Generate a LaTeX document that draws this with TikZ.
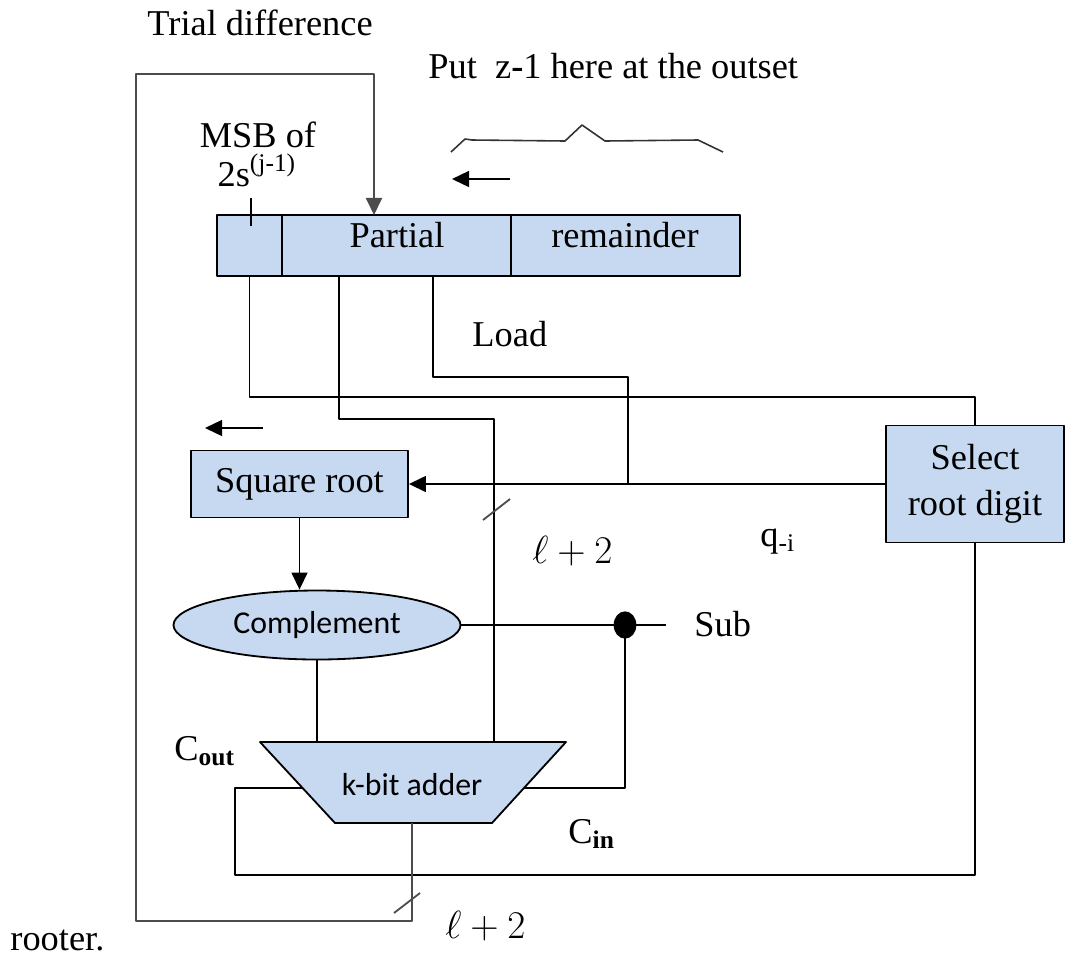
\documentclass[tikz,border=0pt]{standalone}
\usepackage{fontspec}
\setmainfont{Liberation Serif}
\newfontfamily\sansfnt{Carlito}
\usetikzlibrary{arrows.meta,shapes.geometric,positioning}
\definecolor{boxblue}{HTML}{C6D9F1}
\tikzset{
	blk/.style={draw, fill=boxblue, line width=0.8pt, inner sep=0pt},
	wire/.style={line width=0.8pt},
	fb/.style={line width=1.1pt, draw=black!70},
	txt/.style={inner sep=0pt, font=\fontsize{16}{17}\selectfont},
	sans/.style={inner sep=0pt, font=\sansfnt\fontsize{14}{16}\selectfont},
}
\begin{document}
\begin{tikzpicture}[x=0.44pt, y=-0.44pt, line join=round, >={Triangle[length=7.5pt,width=7pt]}]
	\useasboundingbox (0,0) rectangle (1065,958);
	% register
	\foreach \n/\x/\w in {msb/249.5/65,part/396.5/229,rem/625.5/229}
		\node[blk, minimum width=\w*0.44pt, minimum height=61*0.44pt] (\n) at (\x,245.5) {};
	\node[txt, anchor=base] (tpart) at (397,247) {Partial};
	\node[txt, anchor=base] (trem) at (625,247) {remainder};
	% blocks
	\node[blk, txt, minimum width=217*0.44pt, minimum height=67*0.44pt] (sqrt) at (299.5,484) {Square root};
	\node[blk, txt, align=center, minimum width=178*0.44pt, minimum height=117*0.44pt, font=\fontsize{16}{20}\selectfont] (sel) at (975,484) {Select\\root digit};
	\node[blk, sans, ellipse, minimum width=287*0.44pt, minimum height=69*0.44pt] (comp) at (317,625) {Complement};
	\coordinate (atl) at (260,742); \coordinate (atr) at (566,742);
	\coordinate (abr) at (492,823); \coordinate (abl) at (335,823);
	\draw[blk] (atl) -- (atr) -- (abr) -- (abl) -- cycle;
	\node[sans] (add) at (412,785) {k-bit adder};
	\node[ellipse, fill=black, minimum width=10pt, minimum height=12pt, inner sep=0pt] (dot) at (625,625) {};
	% wires
	\draw[wire] (msb.south) |- (975,397) -- (sel.north);
	\draw[wire] (339,276) |- (494,419) -- (494,742);
	\draw[wire] (433,276) |- (628,377) -- (628,484);
	\draw[wire,->] (sel.west) -- (sqrt.east);
	\draw[wire,->] (sqrt.south) -- (sqrt.south |- comp.north);
	\draw[wire] (comp.south) -- (comp.south |- atl);
	\draw[wire] (comp.east) -- (dot.center) -- (666,625);
	\draw[wire] (dot.center) |- (524,788);
	\draw[wire] (303,788) -| (235,875) -| (sel.south);
	\draw[fb,->] (412,823) |- (136,921) |- (374,74) -- (374,215);
	% ticks, slashes, shift arrows
	\draw[wire] (251,198) -- (251,226);
	\draw[wire, black!70] (483,520) -- (510,499);
	\draw[wire, black!70] (394,913) -- (420,893);
	\draw[wire,->] (510,179) -- (452,179);
	\draw[wire,->] (263,428) -- (205,428);
	\draw[line width=0.7pt, black!80] (451,152) -- (465,139) -- (472,140) -- (565,141) -- (582,125) -- (605,141) -- (698,140) -- (723,152);
	% labels
	\node[txt, anchor=base west] (ltrial) at (147,35) {Trial difference};
	\node[txt, anchor=base west] (lput) at (428,78) {Put\ \ z\textbf{-}1 here at the outset};
	\node[txt, anchor=base] (lmsb) at (258,147) {MSB of};
	\node[txt, anchor=base] (lmsb2) at (257,186) {2s\textsuperscript{(j-1)}};
	\node[txt, anchor=base west] (lload) at (472,346) {Load};
	\node[txt, anchor=base west] (lq) at (760,546) {q\textsubscript{-i}};
	\node[txt, anchor=base west] (lw1) at (532,563) {$\ell+2$};
	\node[txt, anchor=base west] (lsub) at (694,636) {Sub};
	\node[txt, anchor=base west] (lcout) at (174,760) {C\textsubscript{\textbf{out}}};
	\node[txt, anchor=base west] (lcin) at (568,843) {C\textsubscript{\textbf{in}}};
	\node[txt, anchor=base west] (lw2) at (445,938) {$\ell+2$};
	\node[txt, anchor=base west] (lroot) at (10,950) {rooter.};
\end{tikzpicture}
\end{document}
